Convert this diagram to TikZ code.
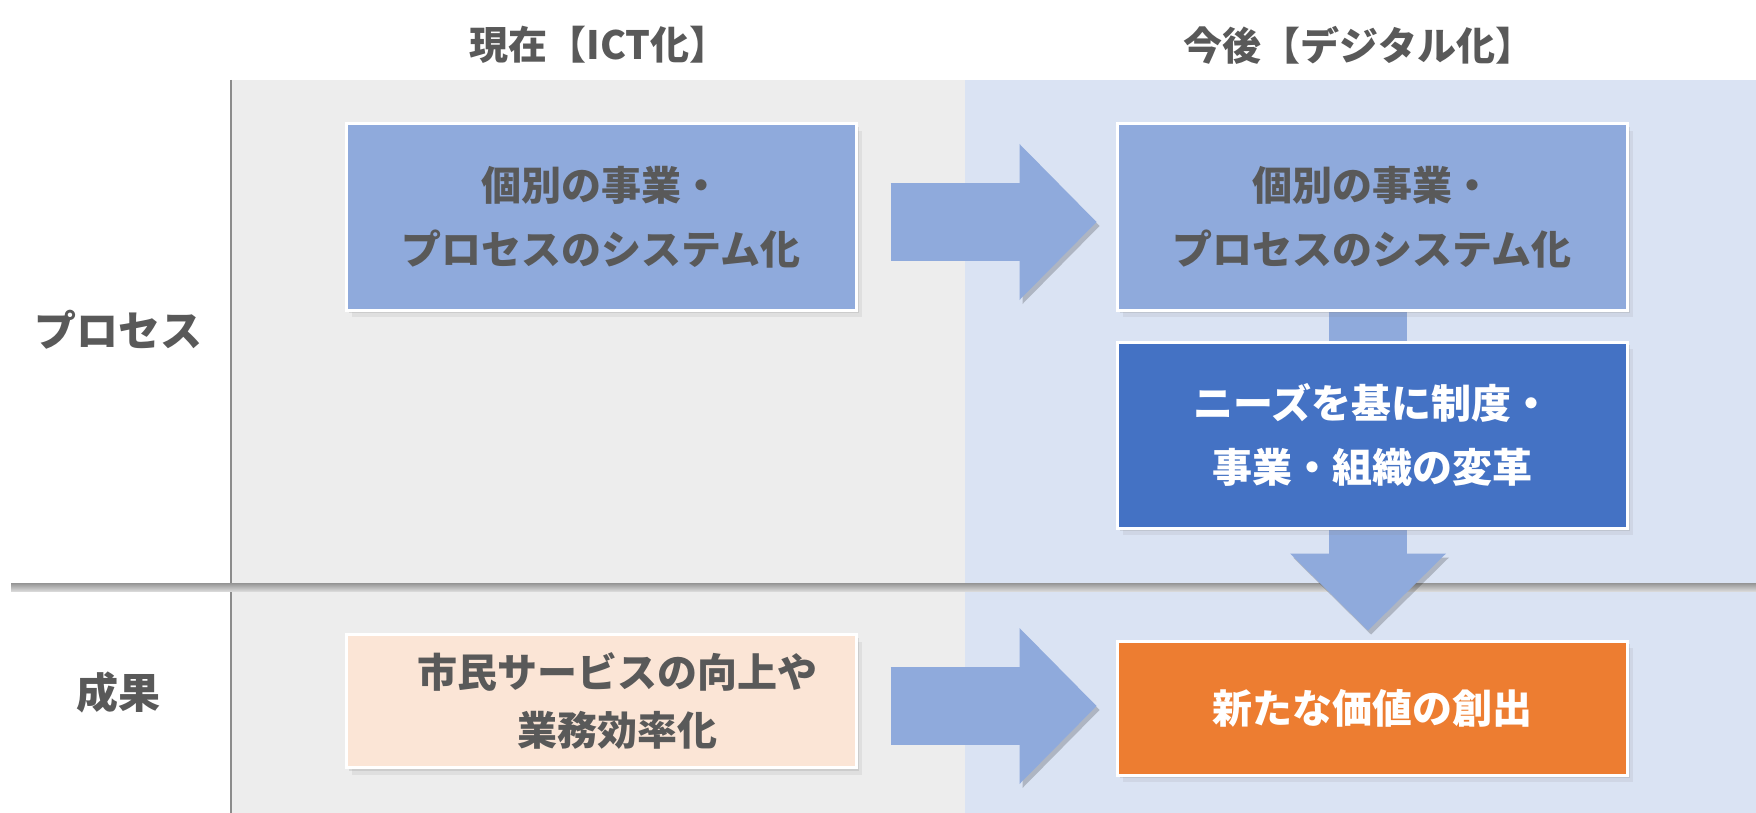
\documentclass[tikz,border=0pt]{standalone}
\usepackage{fontspec}
\newfontfamily\jpfont{Noto Sans CJK JP}
\usepackage{tikz}
\usetikzlibrary{arrows.meta,shadows,calc}
\definecolor{GrisTexte}{HTML}{595959}
\definecolor{GrisFond}{HTML}{EDEDED}
\definecolor{GrisTrait}{HTML}{8C8C8C}
\definecolor{BleuFond}{HTML}{DAE3F3}
\definecolor{BleuClair}{HTML}{8FAADC}
\definecolor{BleuFonce}{HTML}{4472C4}
\definecolor{OrangeVif}{HTML}{ED7D31}
\definecolor{Peche}{HTML}{FBE5D6}
\pgfdeclarelayer{fond}
\pgfdeclarelayer{fleches}
\pgfsetlayers{fond,fleches,main}
\tikzset{
Titre/.style={
 text=GrisTexte, 
 font=\jpfont\bfseries\fontsize{39}{44}\selectfont
 },
Rubrique/.style={
 text=GrisTexte, 
 font=\jpfont\bfseries\fontsize{42}{48}\selectfont
 },
Boite/.style={
 draw=white, 
 line width=3pt, 
 minimum width=510pt, 
 minimum height=186pt, 
 inner sep=0pt, 
 align=center, 
 text=GrisTexte, 
 fill=BleuClair, 
 font=\jpfont\bfseries\fontsize{40}{64}\selectfont, 
 drop shadow={shadow xshift=3pt, shadow yshift=-3pt, opacity=0.2}, 
 drop shadow={shadow xshift=6pt, shadow yshift=-7pt, opacity=0.12}
 },
BoiteFoncee/.style={
 Boite, 
 fill=BleuFonce, 
 text=white
 },
BoiteOrange/.style={
 Boite, 
 fill=OrangeVif, 
 text=white, 
 minimum height=134pt
 },
BoitePeche/.style={
 Boite, 
 fill=Peche, 
 minimum height=133pt, 
 font=\jpfont\bfseries\fontsize{40}{58}\selectfont
 },
GrosseFleche/.style={
 draw=BleuClair, 
 line width=78pt, 
 -{Triangle[length=77pt,width=156pt,line width=0pt]}, 
 preaction={draw=black, opacity=0.2, transform canvas={shift={(3pt,-4pt)}}}
 }
}
\begin{document}
\begin{tikzpicture}[x=1pt,y=-1pt]
\useasboundingbox (0,0) rectangle (1756,813);
\begin{pgfonlayer}{fond}
% bandeau du haut
\fill[white] (11,80) rectangle (231,583);
\fill[GrisFond] (231,80) rectangle (965,583);
\fill[BleuFond] (965,80) rectangle (1756,583);
\draw[GrisTrait,line width=1.2pt] (231,80) -- (231,583);
\shade[top color=black!42,bottom color=black!12] (11,583) rectangle (1756,592);
% bandeau du bas
\fill[white] (11,592) rectangle (231,813);
\fill[GrisFond] (231,592) rectangle (965,813);
\fill[BleuFond] (965,592) rectangle (1756,813);
\draw[GrisTrait,line width=1.2pt] (231,592) -- (231,813);
\end{pgfonlayer}
\node[Titre] (ict) at (599,45) {現在【ICT化】};
\node[Titre] (dx) at (1359,45) {今後【デジタル化】};
\node[Rubrique] (processus) at (118,330) {プロセス};
\node[Rubrique] (resultat) at (118,692) {成果};
\node[Boite] (sysA) at (601,217) {個別の事業・\\プロセスのシステム化};
\node[Boite] (sysB) at (1372,217) {個別の事業・\\プロセスのシステム化};
\node[BoiteFoncee] (reforme) at (1372,435) {ニーズを基に制度・\\事業・組織の変革};
\node[BoitePeche] (service) at (601,701) {\hspace*{32pt}市民サービスの向上や\\\hspace*{32pt}業務効率化};
\node[BoiteOrange] (valeur) at (1372,708) {新たな価値の創出};
\begin{pgfonlayer}{fleches}
\draw[GrosseFleche] ($(sysA.east)+(33,5)$) -- ($(sysB.west)+(-19,5)$);
\draw[GrosseFleche] ($(service.east |- valeur.west)+(33,-2)$) -- ($(valeur.west)+(-19,-2)$);
\draw[GrosseFleche] ($(sysB.south)+(-4,0)$) -- ($(valeur.north)+(-4,-9)$);
\end{pgfonlayer}
\end{tikzpicture}
\end{document}
